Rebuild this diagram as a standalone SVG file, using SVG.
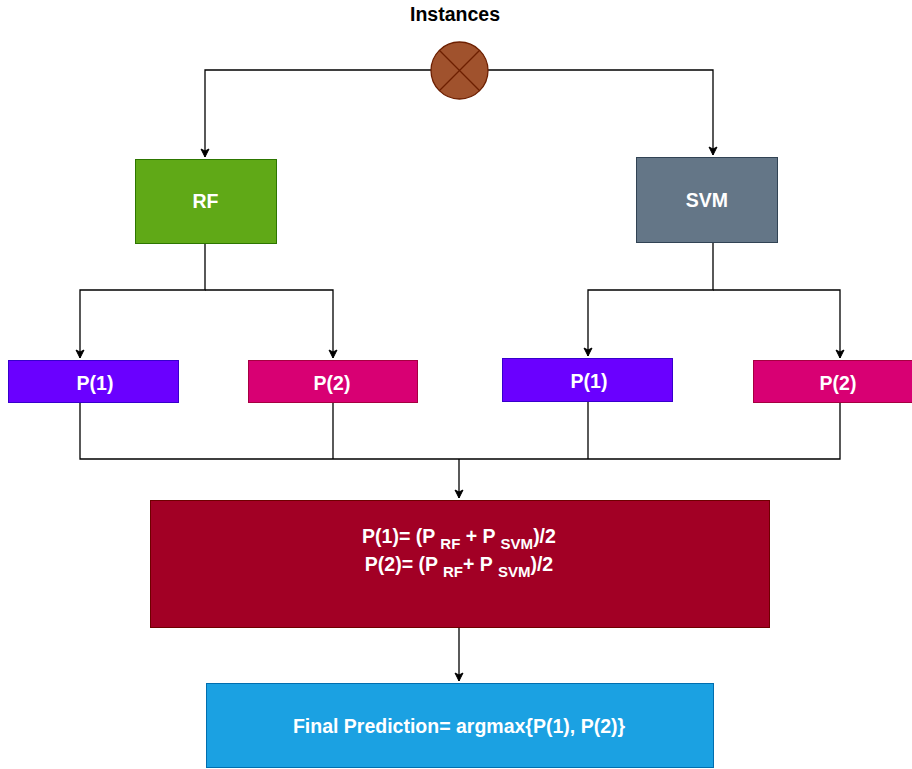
<svg xmlns="http://www.w3.org/2000/svg" width="912" height="769" viewBox="0 0 912 769">
<defs>
<marker id="arr" markerWidth="10" markerHeight="10" refX="9" refY="5" orient="auto" markerUnits="userSpaceOnUse">
<path d="M1,1 L9,5 L1,9 L3,5 Z" fill="#000" stroke="#000" stroke-width="1"/>
</marker>
<style>
text{font-family:"Liberation Sans",Arial,sans-serif;font-weight:bold;font-size:19.5px;text-anchor:middle}
.w{fill:#fff}
.c{fill:none;stroke:#000;stroke-width:1.3}
.sub{font-size:15px}
</style>
</defs>
<rect width="912" height="769" fill="#fff"/>
<g id="connectors">
<path class="c" d="M431,70 H205 V157" marker-end="url(#arr)"/>
<path class="c" d="M488,70 H713 V155" marker-end="url(#arr)"/>
<path class="c" d="M205,244 V290 H80 V358" marker-end="url(#arr)"/>
<path class="c" d="M205,290 H333 V358" marker-end="url(#arr)"/>
<path class="c" d="M713,243 V290 H588 V356" marker-end="url(#arr)"/>
<path class="c" d="M713,290 H840 V358" marker-end="url(#arr)"/>
<path class="c" d="M80,403 V459 H840 V403"/>
<path class="c" d="M333,403 V459"/>
<path class="c" d="M588,402 V459"/>
<path class="c" d="M459,459 V498" marker-end="url(#arr)"/>
<path class="c" d="M459,627 V681" marker-end="url(#arr)"/>
</g>
<g id="instances">
<text x="455" y="21">Instances</text>
<circle cx="459.5" cy="70.5" r="28.5" fill="#a0522d" stroke="#6d1f00" stroke-width="1.3"/>
<path d="M439.3,50.3 L479.7,90.7 M479.7,50.3 L439.3,90.7" stroke="#6d1f00" stroke-width="1.3"/>
</g>
<g id="rf">
<rect x="135.5" y="159.5" width="141" height="84" fill="#60a917" stroke="#2d7600"/>
<text class="w" x="205.5" y="208">RF</text>
</g>
<g id="svm">
<rect x="636.5" y="157.5" width="141" height="85" fill="#647687" stroke="#314354"/>
<text class="w" x="707" y="207">SVM</text>
</g>
<g id="rf-p1">
<rect x="8.5" y="360.5" width="170" height="42" fill="#6a00ff" stroke="#3700cc"/>
<text class="w" x="95" y="390">P(1)</text>
</g>
<g id="rf-p2">
<rect x="248.5" y="360.5" width="169" height="42" fill="#d80073" stroke="#a50040"/>
<text class="w" x="332" y="390">P(2)</text>
</g>
<g id="svm-p1">
<rect x="502.5" y="358.5" width="170" height="43" fill="#6a00ff" stroke="#3700cc"/>
<text class="w" x="589" y="388">P(1)</text>
</g>
<g id="svm-p2">
<rect x="753.5" y="360.5" width="170" height="42" fill="#d80073" stroke="#a50040"/>
<text class="w" x="838" y="390">P(2)</text>
</g>
<g id="average">
<rect x="150.5" y="500.5" width="619" height="127" fill="#a20025" stroke="#6f0000"/>
<text class="w" x="459" y="543">P(1)= (P <tspan class="sub" dy="6">RF</tspan><tspan dy="-6"> + P </tspan><tspan class="sub" dy="6">SVM</tspan><tspan dy="-6">)/2</tspan></text>
<text class="w" x="459" y="571">P(2)= (P <tspan class="sub" dy="6">RF</tspan><tspan dy="-6">+ P </tspan><tspan class="sub" dy="6">SVM</tspan><tspan dy="-6">)/2</tspan></text>
</g>
<g id="final">
<rect x="206.5" y="683.5" width="507" height="84" fill="#1ba1e2" stroke="#006eaf"/>
<text class="w" x="459" y="733">Final Prediction= argmax{P(1), P(2)}</text>
</g>
</svg>
